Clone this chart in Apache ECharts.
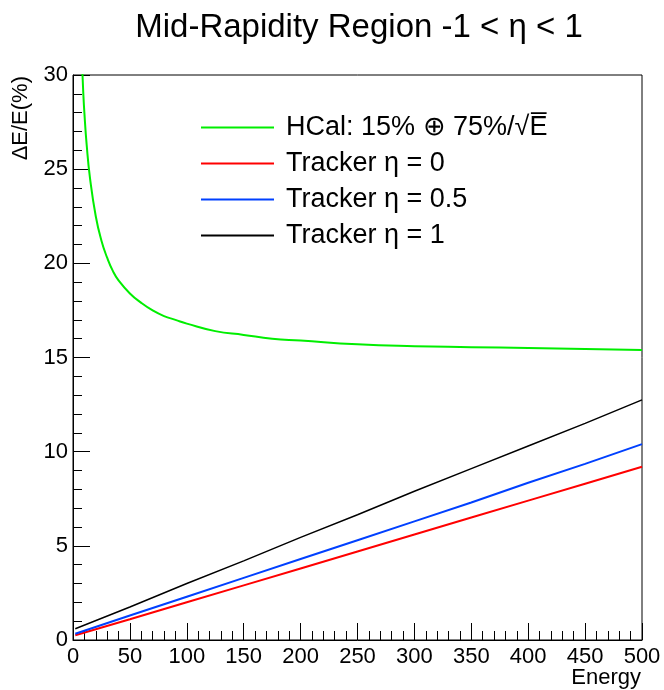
<!DOCTYPE html>
<html>
<head>
<meta charset="utf-8">
<script src="https://cdn.jsdelivr.net/npm/echarts@6/dist/echarts.min.js"></script>
<style>
  html, body { margin: 0; padding: 0; background: #fff; }
  #chart { width: 664px; height: 690px; }
</style>
</head>
<body>
<div id="chart"></div>
<script>
// Energy resolution in the mid-rapidity region
const FONT = 'Liberation Sans, Arial, Helvetica, sans-serif';

const titleText = 'Mid-Rapidity Region -1 < η < 1';
const xAxisName = 'Energy';
const yAxisName = 'ΔE/E(%)';

const seriesNames = ['HCal: 15% ⊕ 75%/√E\u0305', 'Tracker η = 0', 'Tracker η = 0.5', 'Tracker η = 1'];
const seriesColors = ['#00ee00', '#ff0000', '#0040ff', '#000000'];

// HCal resolution (%) vs energy
const hcalEnergy = [8, 9, 10, 12, 15, 20, 25, 30, 35, 40, 50, 60, 70, 80, 90, 100, 125, 150, 175, 200, 250, 300, 350, 400, 450, 500];
const hcalRes    = [30.5, 29.1, 28.0, 26.3, 24.5, 22.5, 21.2, 20.3, 19.6, 19.1, 18.4, 17.9, 17.5, 17.2, 17.0, 16.8, 16.4, 16.2, 16.0, 15.9, 15.7, 15.6, 15.55, 15.5, 15.45, 15.4];

// Tracker resolution (%) vs energy
const trackerEnergy = [2, 50, 100, 150, 200, 250, 300, 350, 400, 450, 500];
const trackerEta0   = [0.25, 1.1, 2.0, 2.9, 3.8, 4.7, 5.6, 6.5, 7.4, 8.3, 9.2];
const trackerEta05  = [0.33, 1.3, 2.3, 3.3, 4.3, 5.3, 6.3, 7.3, 8.35, 9.35, 10.4];
const trackerEta1   = [0.6, 1.75, 3.0, 4.2, 5.45, 6.65, 7.9, 9.1, 10.3, 11.5, 12.75];

const pair = (xs, ys) => xs.map((x, i) => [x, ys[i]]);

const chart = echarts.init(document.getElementById('chart'), null, { renderer: 'canvas' });

const axisCommon = {
  axisLine: { show: true, lineStyle: { color: '#000', width: 1 } },
  axisTick: { show: true, inside: true, length: 17, lineStyle: { color: '#000', width: 1 } },
  minorTick: { show: true, splitNumber: 5, length: 9, lineStyle: { color: '#000', width: 1 } },
  splitLine: { show: false },
  minorSplitLine: { show: false },
  axisLabel: { color: '#000', fontFamily: FONT, fontSize: 22 }
};

function lineSeries(idx, xs, ys, width, extra) {
  return Object.assign({
    name: seriesNames[idx], type: 'line', data: pair(xs, ys),
    showSymbol: false, symbol: 'none', clip: true,
    lineStyle: { color: seriesColors[idx], width: width },
    itemStyle: { color: seriesColors[idx] }
  }, extra || {});
}

chart.setOption({
  animation: false,
  backgroundColor: '#fff',
  title: {
    text: titleText,
    left: 354,
    top: 6,
    textAlign: 'center',
    textStyle: { fontFamily: FONT, fontSize: 33, fontWeight: 'normal', color: '#000' }
  },
  grid: {
    left: 73, right: 22, top: 75, bottom: 50,
    show: true, borderColor: '#000', borderWidth: 1, backgroundColor: 'transparent'
  },
  legend: {
    orient: 'vertical',
    left: 196,
    top: 109,
    icon: 'rect',
    itemWidth: 73,
    itemHeight: 2,
    itemGap: 9,
    data: seriesNames,
    textStyle: { fontFamily: FONT, fontSize: 27, color: '#000', padding: [0, 0, 0, 7], lineHeight: 25 }
  },
  xAxis: Object.assign({}, axisCommon, {
    type: 'value', min: 0, max: 500, interval: 50,
    axisLabel: Object.assign({}, axisCommon.axisLabel, { margin: 6, showMaxLabel: true })
  }),
  yAxis: Object.assign({}, axisCommon, {
    type: 'value', min: 0, max: 30, interval: 5,
    axisLabel: Object.assign({}, axisCommon.axisLabel, { margin: 5 })
  }),
  graphic: [
    {
      type: 'text', x: 641, y: 689,
      style: { text: xAxisName, font: '22px ' + FONT, fill: '#000', align: 'right', verticalAlign: 'bottom' }
    },
    {
      type: 'text', x: 21, y: 76, rotation: Math.PI / 2,
      style: { text: yAxisName, font: '22px ' + FONT, fill: '#000', align: 'right', verticalAlign: 'middle' }
    }
  ],
  series: [
    lineSeries(0, hcalEnergy, hcalRes, 2, { smooth: 0.5 }),
    lineSeries(1, trackerEnergy, trackerEta0, 2),
    lineSeries(2, trackerEnergy, trackerEta05, 2),
    lineSeries(3, trackerEnergy, trackerEta1, 1.5)
  ]
});
</script>
</body>
</html>
